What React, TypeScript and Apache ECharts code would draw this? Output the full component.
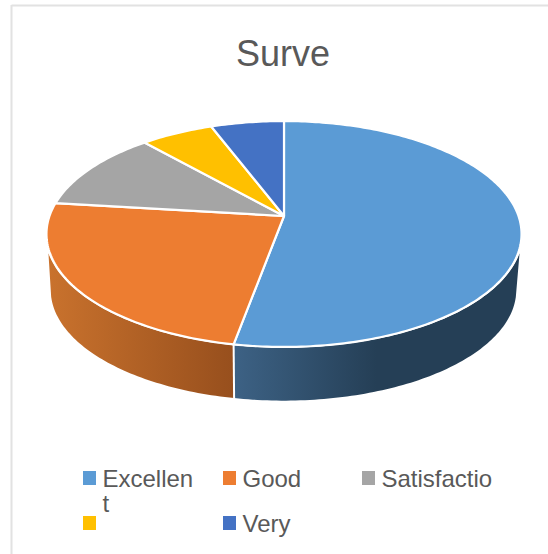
import React, { useEffect, useRef } from "react";
import * as echarts from "echarts";

const titleText = "Surve";
const legendLabels = ["Excellen\nt", "Good", "Satisfactio", "", "Very"];
const values = [52.9, 24, 11.5, 5.8, 5.8];
const colors = ["#5B9BD5", "#ED7D31", "#A5A5A5", "#FFC000", "#4472C4"];
const wallGradients: (string[] | null)[] = [
  ["#3D6285", "#253F56"],
  ["#C9722D", "#974F1D"],
  null,
  null,
  null,
];

const FONT = "Liberation Sans, Arial, sans-serif";
const TEXT = "#595959";

// perspective projection of the pie's disc
const CX = 284;
const A = 234.5;
const B = 110.1;
const K = 0.1593;
const TOP_Y = 216;
const BOTTOM_CX = 283.5;
const BOTTOM_Y = 272.3;
const BOTTOM_S = 0.98;
const WALL_TOP_S = 1.006;
const R = Math.PI / 180;

function project(deg: number, cx: number, y0: number, f: number): number[] {
  const c = Math.cos(deg * R);
  const s = Math.sin(deg * R);
  const d = 1 + K * c;
  return [cx + (f * A * s) / d, y0 - (f * B * c) / d];
}

function arc(from: number, to: number, cx: number, y0: number, f: number): number[][] {
  const pts: number[][] = [];
  const n = Math.max(1, Math.ceil(Math.abs(to - from)));
  for (let i = 0; i <= n; i++) pts.push(project(from + ((to - from) * i) / n, cx, y0, f));
  return pts;
}

const total = values.reduce((a, b) => a + b, 0);
function span(i: number): number[] {
  let acc = 0;
  for (let j = 0; j < i; j++) acc += values[j];
  return [(acc / total) * 360, ((acc + values[i]) / total) * 360];
}

// angular limits of the visible outer wall (silhouette)
const TOP_VIS = [108.6, 251.4];
const BOTTOM_VIS = [102.7, 257.3];

function renderTop(params: any) {
  const [a, b] = span(params.dataIndex);
  return {
    type: "polygon",
    shape: { points: [[CX, TOP_Y], ...arc(a, b, CX, TOP_Y, 1)] },
    style: { fill: colors[params.dataIndex], stroke: "#FFFFFF", lineWidth: 2.2, lineJoin: "round" },
  };
}

function renderWall(params: any) {
  const i = params.dataIndex;
  const g = wallGradients[i];
  if (!g) return null;
  const [a, b] = span(i);
  const topFrom = Math.max(a, TOP_VIS[0]);
  const topTo = Math.min(b, TOP_VIS[1]);
  const botFrom = a <= TOP_VIS[0] ? BOTTOM_VIS[0] : a;
  const botTo = b >= TOP_VIS[1] ? BOTTOM_VIS[1] : b;
  const points = [
    ...arc(topFrom, topTo, CX, TOP_Y, WALL_TOP_S),
    ...arc(botTo, botFrom, BOTTOM_CX, BOTTOM_Y, BOTTOM_S),
  ];
  const stops =
    i === 0
      ? [
          { offset: 0, color: g[0] },
          { offset: 0.5, color: g[1] },
          { offset: 1, color: g[1] },
        ]
      : [
          { offset: 0, color: g[0] },
          { offset: 1, color: g[1] },
        ];
  const children: any[] = [
    {
      type: "polygon",
      shape: { points },
      style: { fill: { type: "linear", x: 0, y: 0, x2: 1, y2: 0, colorStops: stops } },
    },
  ];
  if (i === 0) {
    const p1 = project(b, CX, TOP_Y, 1);
    const p2 = project(b, BOTTOM_CX, BOTTOM_Y, BOTTOM_S);
    children.push({
      type: "line",
      shape: { x1: p1[0], y1: p1[1], x2: p2[0], y2: p2[1] + 1 },
      style: { stroke: "#FFFFFF", lineWidth: 2 },
      z2: 5,
    });
  }
  return { type: "group", children };
}

const legendX = [83, 223, 362, 83, 223];
const legendY = [471, 471, 471, 516, 516];

export default function App() {
  const ref = useRef<HTMLDivElement>(null);
  useEffect(() => {
    const chart = echarts.init(ref.current!, undefined, { renderer: "svg" });
    const legendEls: any[] = [];
    legendLabels.forEach((label, i) => {
      legendEls.push({
        type: "rect",
        shape: { x: legendX[i], y: legendY[i], width: 13, height: 14 },
        style: { fill: colors[i] },
      });
      if (label) {
        legendEls.push({
          type: "text",
          x: legendX[i] + 19.5,
          y: legendY[i] - 5,
          style: {
            text: label,
            fill: TEXT,
            font: `24px ${FONT}`,
            lineHeight: 25,
            textAlign: "left",
            verticalAlign: "top",
          },
        });
      }
    });
    const data = legendLabels.map((label, i) => ({ name: label.replace("\n", ""), value: values[i] }));
    chart.setOption({
      animation: false,
      backgroundColor: "#FFFFFF",
      title: {
        text: titleText,
        left: 278,
        top: 30.5,
        textAlign: "center",
        textStyle: { fontFamily: FONT, fontSize: 36, fontWeight: "normal", color: TEXT },
      },
      graphic: [
        {
          type: "line",
          shape: { x1: 11.5, y1: 5.5, x2: 548, y2: 5.5 },
          style: { stroke: "#E2E2E2", lineWidth: 2 },
        },
        {
          type: "line",
          shape: { x1: 11.5, y1: 5, x2: 11.5, y2: 554 },
          style: { stroke: "#E2E2E2", lineWidth: 2 },
        },
        ...legendEls,
      ],
      series: [
        {
          type: "custom",
          name: "wall",
          coordinateSystem: "none",
          renderItem: renderWall,
          data,
          silent: true,
        },
        {
          type: "custom",
          name: "top",
          coordinateSystem: "none",
          renderItem: renderTop,
          data,
          silent: true,
        },
      ],
    });
    return () => chart.dispose();
  }, []);
  return (
    <div
      ref={ref}
      style={{ position: "absolute", left: 0, top: 0, width: 548, height: 554 }}
    />
  );
}
